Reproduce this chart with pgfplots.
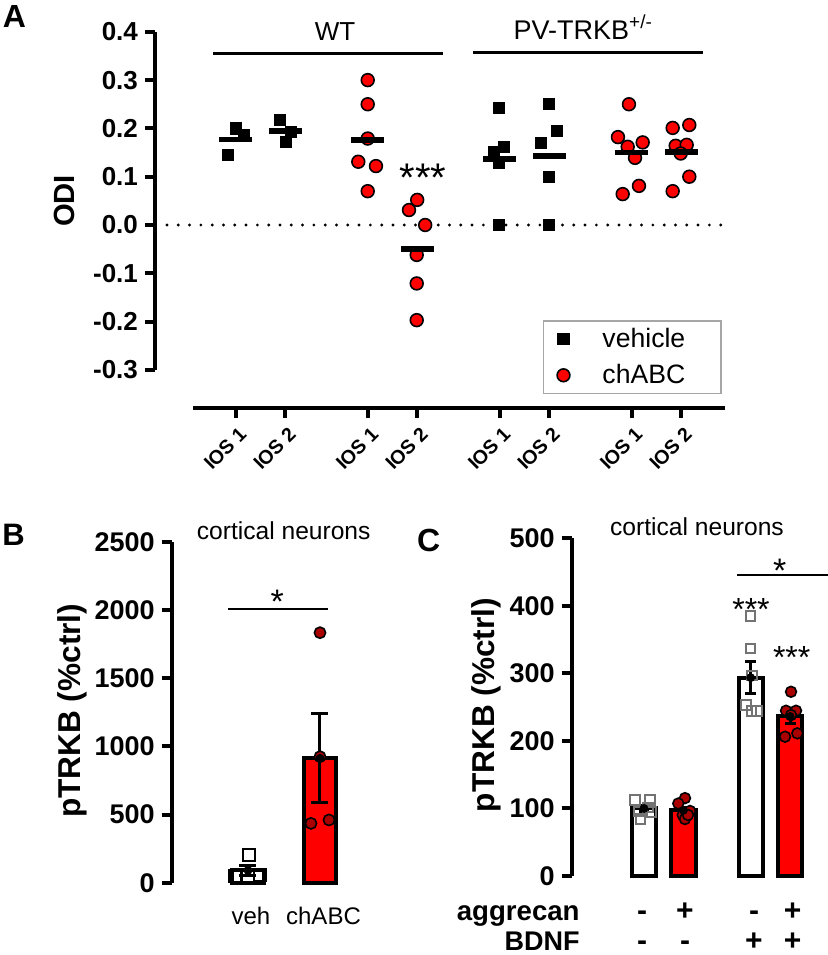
\documentclass[border=0pt]{standalone}
\usepackage{pgfplots}
\pgfplotsset{compat=1.18}
\usepackage{fontspec}
\setmainfont{Liberation Sans}
\definecolor{myred}{RGB}{255,0,0}
\definecolor{dkred}{RGB}{170,0,0}
\definecolor{sqgray}{RGB}{115,115,115}
\newcommand\fs[1]{\fontsize{#1}{#1}\selectfont}
\begin{document}
\begin{tikzpicture}
\useasboundingbox (0,0) rectangle (414pt,-477.5pt);
% ---------------- Panel A ----------------
\begin{axis}[at={(77.5pt,-204pt)}, anchor=south west, scale only axis,
 width=285pt, height=188.1pt,
 xmin=-0.630, xmax=10.885, ymin=-0.3789, ymax=0.4, clip=false,
 axis x line*=bottom, axis y line*=left, axis line style={draw=none},
 tick align=outside, major tick length=5pt, tick style={line width=2pt, black},
 xtick={1,2,3.667,4.667,6.333,7.333,9,10},
 xticklabels={IOS 1,IOS 2,IOS 1,IOS 2,IOS 1,IOS 2,IOS 1,IOS 2},
 xticklabel style={rotate=45, anchor=east, yshift=-7pt, xshift=1.5pt, font=\bfseries\fs{9.8}},
 ytick={-0.3,-0.2,-0.1,0,0.1,0.2,0.3,0.4},
 yticklabels={-0.3,-0.2,-0.1,0.0,0.1,0.2,0.3,0.4},
 yticklabel style={font=\bfseries\fs{13}},
 legend image code/.code={\draw[#1] plot coordinates {(0pt,0pt)}; \path[draw=none] (-4pt,-6pt) rectangle (17.5pt,6pt);},
 legend style={at={(0.680,0.234)}, anchor=north west, draw=black!35, line width=0.9pt,
   font=\fs{13.3}, inner xsep=6pt, inner ysep=1.5pt, row sep=3pt, cells={anchor=west}},
]
\draw[line width=2pt] (axis cs:-0.630,-0.3) -- (axis cs:-0.630,0.4);
\draw[line width=2pt] (axis cs:0.143,-0.3789) -- (axis cs:10.885,-0.3789);
\addplot[black, line width=1.6pt, line cap=round, dash pattern=on 0pt off 5.65pt, forget plot]
  coordinates {(-0.388,0) (10.80,0)};
% vehicle
\addplot[only marks, mark=square*, mark size=2.75pt, mark options={black, fill=black}] coordinates {
 (0.844,0.145) (1.006,0.200) (1.168,0.186)
 (1.895,0.217) (2.117,0.193) (2.016,0.172)
 (6.325,0.2415) (6.426,0.162) (6.224,0.152) (6.319,0.129) (6.325,0.0)
 (7.329,0.250) (7.491,0.195) (7.162,0.170) (7.329,0.100) (7.329,0.0)};
\addlegendentry{vehicle\hspace*{10pt}}
% chABC
\addplot[only marks, mark=*, mark size=3.2pt, mark options={draw=black, fill=myred, line width=0.8pt}] coordinates {
 (3.667,0.30) (3.667,0.25) (3.667,0.179) (3.477,0.131) (3.834,0.122) (3.667,0.070)
 (4.501,0.031) (4.667,0.052) (4.828,0.0) (4.657,-0.062) (4.657,-0.121) (4.657,-0.197)
 (8.945,0.25) (8.723,0.182) (9.222,0.171) (8.919,0.162) (9.067,0.139) (9.147,0.081) (8.818,0.064)
 (9.828,0.201) (10.164,0.207) (9.889,0.164) (10.111,0.166) (9.990,0.148) (10.164,0.100) (9.828,0.070)};
\addlegendentry{chABC}
% means
\addplot[only marks, mark=-, mark size=8.25pt, mark options={line width=2.8pt, black}, forget plot] coordinates {
 (1.0,0.177) (2.0,0.194) (3.667,0.176) (4.667,-0.050) (6.333,0.137) (7.333,0.143) (9,0.150) (10,0.151)};
\end{axis}
\node[anchor=base west, inner sep=0, font=\bfseries\fs{16}] at (1.3pt,-13.5pt) {A};
\node[rotate=90, font=\bfseries\fs{14.6}] at (32pt,-100.5pt) {ODI};
\node[anchor=base, font=\fs{13}] at (167.5pt,-20pt) {WT};
\node[anchor=base west, inner sep=0, font=\fs{13.5}] at (256.65pt,-19.65pt) {PV-TRKB\textsuperscript{+/-}};
\draw[line width=1.5pt] (106.5pt,-26.5pt) -- (221.5pt,-26.5pt);
\draw[line width=1.5pt] (236.5pt,-26pt) -- (351.5pt,-26pt);
\node[anchor=base, font=\fs{20}] at (211.5pt,-95.5pt) {***};
% ---------------- Panel B ----------------
\begin{axis}[at={(85.85pt,-441.35pt)}, anchor=south west, scale only axis,
 width=95.75pt, height=170.5pt,
 xmin=-0.0597, xmax=2.6, ymin=0, ymax=2500, clip=false,
 axis x line=none, axis y line*=left, axis line style={draw=none},
 tick align=outside, major tick length=5pt, tick style={line width=2pt, black},
 ytick={0,500,1000,1500,2000,2500}, yticklabels={0,500,1000,1500,2000,2500},
 yticklabel style={font=\bfseries\fs{13.5}},
]
\draw[line width=2pt] (axis cs:-0.0597,0) -- (axis cs:-0.0597,2500);
\addplot[ybar, bar width=16.35pt, fill=white, draw=black, line width=2pt] coordinates {(1,90)};
\addplot[ybar, bar width=16.35pt, fill=myred, draw=black, line width=2pt] coordinates {(2,912)};
\addplot[only marks, mark=square, mark size=3pt, mark options={black, line width=1pt}] coordinates {
 (1.02,203) (0.82,48) (1.0,52) (1.17,57)};
\addplot[only marks, mark=*, mark size=2.8pt, mark options={draw=black, fill=dkred, line width=0.8pt}] coordinates {
 (2.0,1833) (2.0,924) (1.875,435) (2.125,460)};
\addplot[only marks, mark=none, black, error bars/.cd, y dir=both, y explicit,
 error bar style={line width=1.5pt, black}, error mark options={rotate=90, line width=1.5pt, mark size=4.25pt, black}]
 coordinates {(1,90) +- (0,37.7) (2,912) +- (0,327)};
\end{axis}
\node[anchor=base west, inner sep=0, font=\bfseries\fs{15.5}] at (1pt,-272.5pt) {B};
\node[rotate=90, font=\bfseries\fs{15.8}] at (36pt,-355.4pt) {pTRKB (\%ctrl)};
\node[anchor=base, font=\fs{12.3}] at (141.85pt,-269.5pt) {cortical neurons};
\draw[line width=1pt] (114.15pt,-304.5pt) -- (164.15pt,-304.5pt);
\node[anchor=base, font=\fs{17}] at (138.65pt,-306.85pt) {*};
\node[anchor=base, font=\fs{12}] at (125.5pt,-462pt) {veh};
\node[anchor=base, font=\fs{12}] at (161.75pt,-462pt) {chABC};
% ---------------- Panel C ----------------
\begin{axis}[at={(285.85pt,-437.85pt)}, anchor=south west, scale only axis,
 width=128.15pt, height=168.7pt,
 xmin=-0.830, xmax=5.658, ymin=0, ymax=500, clip=false,
 axis x line=none, axis y line*=left, axis line style={draw=none},
 tick align=outside, major tick length=5pt, tick style={line width=2pt, black},
 ytick={0,100,200,300,400,500}, yticklabels={0,100,200,300,400,500},
 yticklabel style={font=\bfseries\fs{13.5}},
]
\draw[line width=2pt] (axis cs:-0.830,0) -- (axis cs:-0.830,500);
\addplot[ybar, bar width=12.15pt, fill=white, draw=black, line width=2pt] coordinates {(1,99.7) (3.7,293.5)};
\addplot[ybar, bar width=12.15pt, fill=myred, draw=black, line width=2pt] coordinates {(2,97) (4.7,236)};
\addplot[only marks, mark=square, mark size=2.4pt, mark options={sqgray, line width=1pt}] coordinates {
 (0.772,112) (1.152,112) (1.101,101) (0.873,95) (1.195,94) (0.916,84)
 (3.701,385) (3.701,337) (3.734,297) (3.582,253) (3.726,244.5) (3.853,244.5)};
\addplot[only marks, mark=*, mark size=2.7pt, mark options={draw=black, fill=dkred, line width=0.8pt}] coordinates {
 (2.038,115) (1.868,107) (2.165,96) (1.980,90) (2.038,84) (2.114,90)
 (4.722,272.6) (4.595,244.5) (4.848,244.5) (4.722,238) (4.570,206) (4.881,211)};
\addplot[only marks, mark=none, black, error bars/.cd, y dir=both, y explicit,
 error bar style={line width=1.5pt, black}, error mark options={rotate=90, line width=1.5pt, mark size=2.67pt, black}]
 coordinates {(1,99.7) +- (0,4.5) (2,97) +- (0,4.8) (3.7,293.5) +- (0,23.6) (4.7,236) +- (0,10)};
\end{axis}
\node[anchor=base west, inner sep=0, font=\bfseries\fs{16}] at (208.35pt,-275.5pt) {C};
\node[rotate=90, font=\bfseries\fs{15.8}] at (243pt,-352.5pt) {pTRKB (\%ctrl)};
\node[anchor=base, font=\fs{12.3}] at (348.5pt,-267.5pt) {cortical neurons};
\draw[line width=1pt] (368.65pt,-287.5pt) -- (414pt,-287.5pt);
\node[anchor=base, font=\fs{17}] at (389.85pt,-291pt) {*};
\node[anchor=base, font=\fs{16}] at (375.5pt,-310.15pt) {***};
\node[anchor=base, font=\fs{16}] at (395.85pt,-334.3pt) {***};
\node[anchor=base east, inner sep=0, font=\bfseries\fs{13.8}] at (290pt,-460.35pt) {aggrecan};
\node[anchor=base east, inner sep=0, font=\bfseries\fs{13.5}] at (290pt,-475.3pt) {BDNF};
\begin{scope}[every node/.style={anchor=base, inner sep=0, font=\bfseries\fs{15}}]
\node at (321pt,-460.35pt) {-};
\node at (342.5pt,-460.35pt) {+};
\node at (377pt,-460.35pt) {-};
\node at (396.35pt,-460.35pt) {+};
\node at (321pt,-475.3pt) {-};
\node at (342.5pt,-475.3pt) {-};
\node at (377pt,-475.3pt) {+};
\node at (396.35pt,-475.3pt) {+};
\end{scope}
\end{tikzpicture}
\end{document}
